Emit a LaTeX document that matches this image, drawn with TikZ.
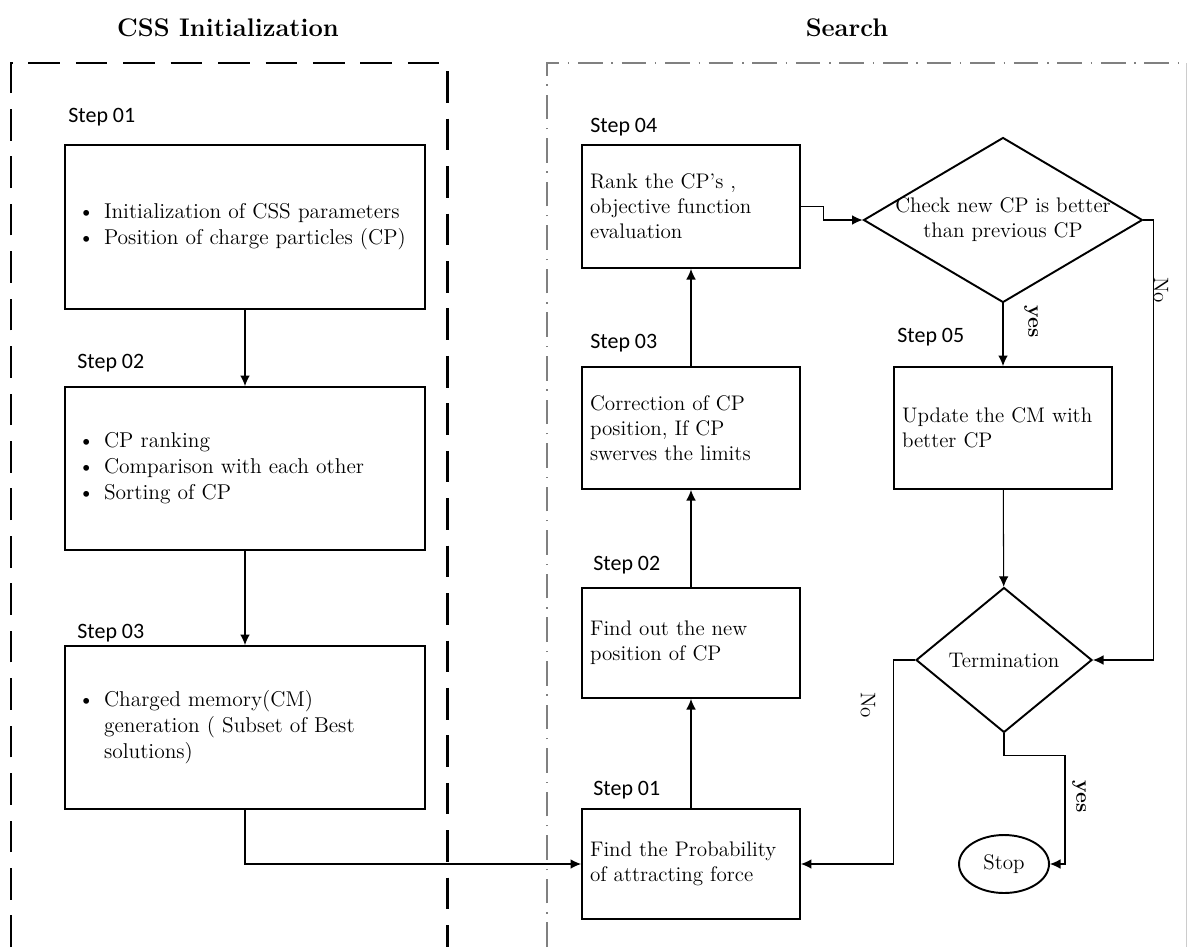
\documentclass[tikz,border=0pt]{standalone}
\usepackage{xcolor}
\usepackage{fontspec}
\usepackage{tikz}
\usetikzlibrary{shapes.geometric,arrows.meta}
\newfontfamily\stepfont{Carlito}
\newcommand{\cssbullet}{\makebox[0.52cm][l]{\textbullet}}
\newcommand{\cssindent}{\hspace*{0.52cm}}

\begin{document}
\begin{tikzpicture}[x=0.02cm,y=-0.02cm]
			\tikzstyle{title} = [font=\fontsize{14.5}{17}\selectfont\bfseries]
			\tikzstyle{steplabel} = [anchor=west, inner sep=0pt, font=\stepfont\fontsize{12.5}{14}\selectfont]
			\tikzstyle{initbox} = [draw, line width=1.1pt, minimum width=7.2cm, text width=6.68cm, inner xsep=0.26cm, align=left, font=\fontsize{12.2}{14.8}\selectfont]
			\tikzstyle{searchbox} = [draw, line width=1.1pt, minimum width=4.36cm, text width=4.04cm, inner xsep=0.16cm, align=left, font=\fontsize{12}{14.2}\selectfont]
			\tikzstyle{decision} = [draw, diamond, line width=1.1pt, inner sep=0pt, align=center, font=\fontsize{12}{14.2}\selectfont]
			\tikzstyle{answer} = [rotate=-90, inner sep=1pt, font=\fontsize{12}{14}\selectfont]
			\tikzset{edge/.style = {->, >= {Latex[length=6pt,width=5.5pt]}, line width=0.6pt}}
			
			\useasboundingbox (0,0) rectangle (1189,947);
			
			\draw[line width=1.7pt, dash pattern=on 18pt off 9pt] (11,947) -- (11,63) -- (447,63) -- (447,947);
			\draw[line width=0.6pt, gray, dash pattern=on 14pt off 5pt on 0.8pt off 5pt] (547,947) -- (547,63) -- (1186,63);
			\draw[line width=0.5pt, gray!40] (1186,63) -- (1186,947);
			
			\node[title](inittitle) at (228,28) {CSS Initialization};
			\node[title](searchtitle) at (847,28) {Search};
			
			\node[steplabel](initlabel1) at (68,117) {Step 01};
			\node[initbox, minimum height=3.28cm](initstep1) at (245,227) {\cssbullet Initialization of CSS parameters\\ \cssbullet Position of charge particles (CP)};
			\node[steplabel](initlabel2) at (77,363) {Step 02};
			\node[initbox, minimum height=3.26cm](initstep2) at (245,468.5) {\cssbullet CP ranking\\ \cssbullet Comparison with each other\\ \cssbullet Sorting of CP};
			\node[steplabel](initlabel3) at (77,633) {Step 03};
			\node[initbox, minimum height=3.26cm](initstep3) at (245,727.5) {\cssbullet Charged memory(CM)\\ \cssindent generation ( Subset of Best\\ \cssindent solutions)};
			\draw[edge](initstep1) to (initstep2);
			\draw[edge](initstep2) to (initstep3);
			
			\node[steplabel](searchlabel1) at (593,790) {Step 01};
			\node[searchbox, minimum height=2.2cm](searchstep1) at (691,864) {Find the Probability\\ of attracting force};
			\node[steplabel](searchlabel2) at (593,565) {Step 02};
			\node[searchbox, minimum height=2.2cm](searchstep2) at (691,643) {Find out the new\\ position of CP};
			\node[steplabel](searchlabel3) at (590,343) {Step 03};
			\node[searchbox, minimum height=2.44cm](searchstep3) at (691,428) {Correction of CP\\ position, If CP\\ swerves the limits};
			\node[steplabel](searchlabel4) at (590,127) {Step 04};
			\node[searchbox, minimum height=2.46cm](searchstep4) at (691,206.5) {Rank the CP's ,\\ objective function\\ evaluation};
			\draw[edge](initstep3.south) |- (searchstep1.west);
			\draw[edge](searchstep1) to (searchstep2);
			\draw[edge](searchstep2) to (searchstep3);
			\draw[edge](searchstep3) to (searchstep4);
			
			\node[decision, inner sep=-5pt, minimum width=5.58cm, minimum height=3.3cm, aspect=1.69](check) at (1003,220) {Check new CP is better\\ than previous CP};
			\draw[edge](searchstep4.east) -- ++(23,0) |- (check.west);
			
			\node[steplabel](searchlabel5) at (897,337) {Step 05};
			\node[searchbox, minimum height=2.44cm](searchstep5) at (1003,428) {Update the CM with\\ better CP};
			\draw[edge](check) to (searchstep5);
			\node[answer, font=\fontsize{12}{14}\selectfont\bfseries](checkyes) at (1031,322) {yes};
			
			\node[decision, minimum width=3.52cm, minimum height=2.9cm, aspect=1.21](termination) at (1004,660) {Termination};
			\draw[edge](searchstep5) to (termination);
			\draw[edge](check.east) -- ++(10,0) |- (termination.east);
			\node[answer](checkno) at (1161,290) {No};
			
			\node[draw, ellipse, line width=1.1pt, minimum width=1.8cm, minimum height=1.16cm, inner sep=0pt, font=\fontsize{12}{14}\selectfont](stop) at (1004,864) {Stop};
			\coordinate(yesbend) at (1065,864);
			\draw[edge](termination.south) -- ++(0,22) -| (yesbend) -- (stop.east);
			\node[answer, font=\fontsize{12}{14}\selectfont\bfseries](termyes) at (1079,797) {yes};
			
			\draw[edge](termination.west) -- ++(-22,0) |- (searchstep1.east);
			\node[answer](termno) at (868,705) {No};
			
			\end{tikzpicture}
\end{document}
